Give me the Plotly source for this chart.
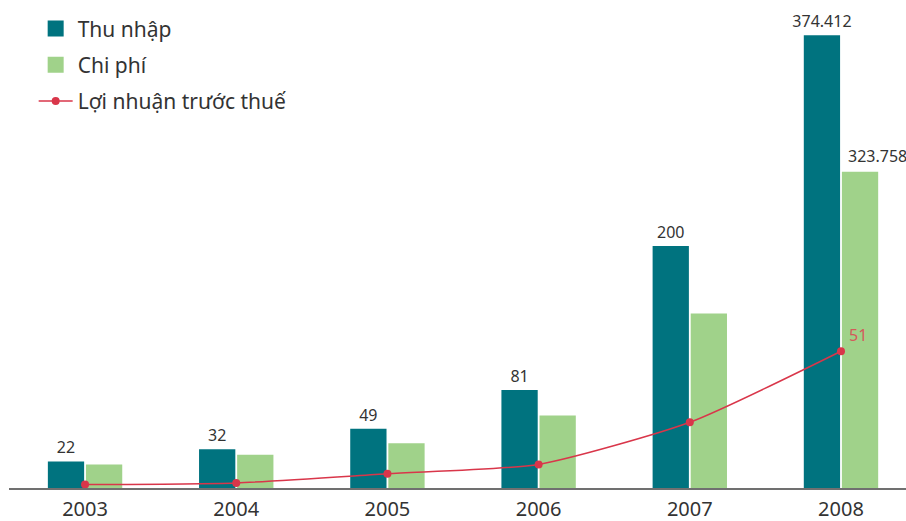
import plotly.graph_objects as go

years = ["2003", "2004", "2005", "2006", "2007", "2008"]
revenue = [22, 32, 49, 81, 200, 374.412]
revenue_labels = ["22", "32", "49", "81", "200", "374.412"]
cost = [24.1, 34.1, 45.7, 74.3, 178.7, 323.758]
cost_label = "323.758"
profit = [1.3, 1.9, 5.3, 8.8, 24.5, 51]
profit_label = "51"

TEAL = "#00737f"
GREEN = "#a0d28a"
RED = "#d9364a"
TXT = "#333333"
FONT = "Noto Sans"

last = len(years) - 1

fig = go.Figure()

fig.add_trace(go.Bar(
    x=years, y=revenue, yaxis="y", name="Thu nhập", showlegend=False,
    marker=dict(color=TEAL, line=dict(width=0)),
    offset=-0.246, width=0.24,
    text=revenue_labels, textposition="outside", cliponaxis=False,
    constraintext="none",
    textfont=dict(family=FONT, size=16, color=TXT),
    hoverinfo="skip",
))
fig.add_trace(go.Bar(
    x=years, y=cost, yaxis="y2", name="Chi phí", showlegend=False,
    marker=dict(color=GREEN, line=dict(width=0)),
    offset=0.006, width=0.24,
    hoverinfo="skip",
))
fig.add_trace(go.Scatter(
    x=years, y=profit, yaxis="y3", name="Lợi nhuận trước thuế", showlegend=False,
    mode="lines+markers", line=dict(color=RED, width=1.5, shape="spline", smoothing=0.6),
    marker=dict(color=RED, size=8), cliponaxis=False,
    hoverinfo="skip",
))

# legend entries
fig.add_trace(go.Scatter(x=[None], y=[None], mode="markers", name="Thu nhập",
                         marker=dict(symbol="square", size=16, color=TEAL), legendgroup="a"))
fig.add_trace(go.Scatter(x=[None], y=[None], mode="markers", name="Chi phí",
                         marker=dict(symbol="square", size=16, color=GREEN), legendgroup="b"))
fig.add_trace(go.Scatter(x=[None], y=[None], mode="lines+markers", name="Lợi nhuận trước thuế",
                         line=dict(color=RED, width=1.5), marker=dict(color=RED, size=8),
                         legendgroup="c"))

fig.add_annotation(x=last, y=cost[last], xref="x", yref="y2", text=cost_label,
                   showarrow=False, xanchor="left", yanchor="bottom", xshift=5, yshift=3,
                   font=dict(family=FONT, size=16, color=TXT))
fig.add_annotation(x=last, y=profit[last], xref="x", yref="y3", text=profit_label,
                   showarrow=False, xanchor="left", yanchor="bottom", xshift=6, yshift=3,
                   font=dict(family=FONT, size=16, color="#d45a5a"))

fig.update_layout(
    width=906, height=521,
    margin=dict(l=9, r=0, t=0, b=33),
    paper_bgcolor="white", plot_bgcolor="white",
    barmode="overlay",
    font=dict(family=FONT, color=TXT),
    xaxis=dict(type="category", range=[-0.503, 5.43], showgrid=False, zeroline=False,
               showline=True, linecolor="#707070", linewidth=2, ticks="",
               ticklabelstandoff=2, automargin=False,
               tickfont=dict(family=FONT, size=20, color=TXT)),
    yaxis=dict(range=[0, 403.5], visible=False, showgrid=False, zeroline=False),
    yaxis2=dict(range=[0, 499.6], overlaying="y", visible=False, showgrid=False, zeroline=False),
    yaxis3=dict(range=[0, 181.95], overlaying="y", visible=False, showgrid=False, zeroline=False),
    legend=dict(x=0.0275, y=0.983, xanchor="left", yanchor="top", bgcolor="rgba(0,0,0,0)",
                font=dict(family=FONT, size=21, color=TXT), tracegroupgap=6,
                itemwidth=34),
    showlegend=True,
)

fig.write_html(
    "out.html",
    config={"displayModeBar": False},
    post_script="document.body.style.margin='0';document.body.style.overflow='hidden';",
)
